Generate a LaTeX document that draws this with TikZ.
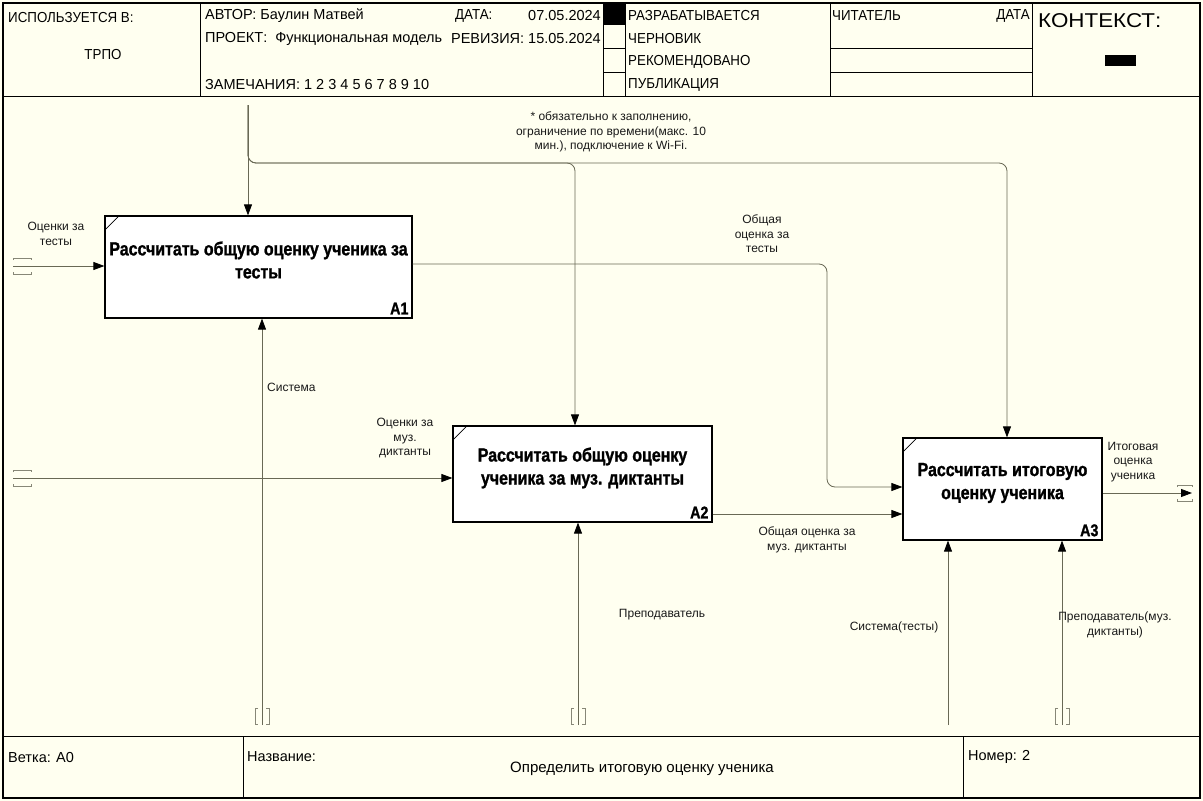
\documentclass[tikz,border=0pt]{standalone}
\usepackage{fontspec}
\setmainfont{Liberation Sans}
\newfontfamily\capsfont[FakeStretch=0.92]{Liberation Sans}
\newfontfamily\widefont[FakeStretch=1.12]{Liberation Sans}
\newfontfamily\ttlfont[FakeStretch=0.84, BoldFeatures={FakeBold=1.2}]{Liberation Sans}
\usetikzlibrary{arrows.meta}
\definecolor{bg}{RGB}{255,255,240}
\definecolor{wirec}{RGB}{105,105,85}
\tikzset{
  wire/.style={draw=wirec, line width=0.8pt, rounded corners=8pt},
  arr/.style={wire, -{Triangle[length=11pt,width=8pt,color=black,fill=black]}},
  tun/.style={draw=wirec!80, line width=0.7pt},
  fnbox/.style={draw=black, fill=white, line width=1.2pt, inner sep=0pt},
  ttl/.style={font=\ttlfont\bfseries\fontsize{19}{23}\selectfont, align=center, inner sep=0pt},
  code/.style={font=\ttlfont\bfseries\fontsize{17}{20}\selectfont, anchor=south east, inner sep=0pt},
  lbl/.style={font=\fontsize{12}{14.5}\selectfont, align=center, text=black!90, inner sep=0pt},
  hdr/.style={font=\fontsize{14.5}{16}\selectfont, anchor=west, inner sep=0pt},
  hcaps/.style={font=\capsfont\fontsize{14.5}{16}\selectfont, anchor=west, inner sep=0pt},
  grid/.style={draw=black, line width=0.8pt},
}
\newcommand{\htun}[3]{%
  \draw[tun] (#1,#3-6) -- (#1,#3-8) -- (#2,#3-8) -- (#2,#3-6);
  \draw[tun] (#1,#3+6) -- (#1,#3+8) -- (#2,#3+8) -- (#2,#3+6);}
\newcommand{\vtun}[3]{%
  \draw[tun] (#1-4,#2) -- (#1-7,#2) -- (#1-7,#3) -- (#1-4,#3);
  \draw[tun] (#1+4,#2) -- (#1+7,#2) -- (#1+7,#3) -- (#1+4,#3);}
\begin{document}
\begin{tikzpicture}[x=1pt,y=-1pt]
\useasboundingbox (0,0) rectangle (1203,801);
\fill[bg] (0,0) rectangle (1203,801);
% frame
\draw[black, line width=1.6pt] (3,3) rectangle (1200,798);
\draw[grid] (3,96) -- (1200,96);
\draw[grid] (200,3) -- (200,96);
\draw[grid] (603,3) -- (603,96);
\draw[grid] (625,3) -- (625,96);
\draw[grid] (830,3) -- (830,96);
\draw[grid] (1032,3) -- (1032,96);
\fill[black] (603,3) rectangle (625,25);
\draw[grid] (603,48) -- (625,48);
\draw[grid] (603,72) -- (625,72);
\draw[grid] (830,48) -- (1032,48);
\draw[grid] (830,72) -- (1032,72);
\fill[black] (1105,55) rectangle (1136,66);
% header text
\node[hcaps] (h1) at (8,18) {ИСПОЛЬЗУЕТСЯ В:};
\node[hcaps, anchor=center] (h2) at (103,55) {ТРПО};
\node[hdr] (h3) at (205,16) {АВТОР: Баулин Матвей};
\node[hcaps] (h4) at (455,16) {ДАТА:};
\node[hdr, anchor=east] (h5) at (601,16) {07.05.2024};
\node[hdr] (h6) at (205,39) {ПРОЕКТ:\ \ Функциональная модель};
\node[hdr, anchor=east] (h7) at (601,39) {РЕВИЗИЯ: 15.05.2024};
\node[hdr] (h8) at (205,85) {ЗАМЕЧАНИЯ: 1 2 3 4 5 6 7 8 9 10};
\node[hcaps] (s1) at (628,16) {РАЗРАБАТЫВАЕТСЯ};
\node[hcaps] (s2) at (628,39) {ЧЕРНОВИК};
\node[hcaps] (s3) at (628,62) {РЕКОМЕНДОВАНО};
\node[hcaps] (s4) at (628,85) {ПУБЛИКАЦИЯ};
\node[hcaps] (r1) at (832,16) {ЧИТАТЕЛЬ};
\node[hcaps, anchor=east] (r2) at (1030,16) {ДАТА};
\node[hdr, font=\widefont\fontsize{20}{22}\selectfont] (ctx) at (1038,21) {КОНТЕКСТ:};
% footer
\draw[grid] (3,736) -- (1200,736);
\draw[grid] (243,736) -- (243,798);
\draw[grid] (963,736) -- (963,798);
\node[hdr] (f1) at (8,757) {Ветка: A0};
\node[hdr] (f2) at (247,757) {Название:};
\node[hdr, anchor=center, font=\fontsize{15}{17}\selectfont] (f3) at (642,769) {Определить итоговую оценку ученика};
\node[hdr] (f4) at (968,757) {Номер: 2};
% function boxes
\node[fnbox, minimum width=307pt, minimum height=102pt] (A1) at (258.5,267) {};
\node[fnbox, minimum width=259pt, minimum height=96pt] (A2) at (582.5,474) {};
\node[fnbox, minimum width=199pt, minimum height=102pt] (A3) at (1002.5,489) {};
\draw[black, line width=0.7pt] ([yshift=-15pt]A1.north west) -- ([xshift=15pt]A1.north west);
\draw[black, line width=0.7pt] ([yshift=-15pt]A2.north west) -- ([xshift=15pt]A2.north west);
\draw[black, line width=0.7pt] ([yshift=-15pt]A3.north west) -- ([xshift=15pt]A3.north west);
\node[ttl] (t1) at (258.5,260) {Рассчитать общую оценку ученика за\\тесты};
\node[ttl] (t2) at (582.5,468) {Рассчитать общую оценку\\ученика за муз. диктанты};
\node[ttl] (t3) at (1002.5,483) {Рассчитать итоговую\\оценку ученика};
\node[code] (n1) at ([xshift=-4pt,yshift=4pt]A1.south east) {A1};
\node[code] (n2) at ([xshift=-4pt,yshift=4pt]A2.south east) {A2};
\node[code] (n3) at ([xshift=-4pt,yshift=4pt]A3.south east) {A3};
% controls
\coordinate (c0) at (248,105);
\coordinate (j2) at (575,163);
\coordinate (j3) at (1007,163);
\draw[arr] (c0) -- (A1.north -| c0);
\draw[arr] (c0) |- (j2) -- (A2.north -| j2);
\draw[arr] (c0) |- (j3) -- (A3.north -| j3);
\node[lbl] (lc) at (611,132) {* обязательно к заполнению,\\ограничение по времени(макс. 10\\мин.), подключение к Wi-Fi.};
% inputs
\coordinate (i1) at (13,266);
\coordinate (i2) at (13,478);
\draw[arr] (i1) -- (A1.west |- i1);
\draw[arr] (i2) -- (A2.west |- i2);
\htun{13}{31}{266}
\htun{13}{31}{478}
\node[lbl] (li1) at (56,234) {Оценки за\\тесты};
\node[lbl] (li2) at (405,438) {Оценки за\\муз.\\диктанты};
% A1 -> A3
\coordinate (k1) at (827,264);
\coordinate (k2) at (827,487);
\draw[arr] (A1.east |- k1) -- (k1) -- (k2) -- (A3.west |- k2);
\node[lbl] (lk1) at (762,234) {Общая\\оценка за\\тесты};
% A2 -> A3
\coordinate (k3) at (800,514);
\draw[arr] (A2.east |- k3) -- (A3.west |- k3);
\node[lbl] (lk3) at (807,540) {Общая оценка за\\муз. диктанты};
% output
\coordinate (o1) at (1192,493);
\draw[arr] (A3.east |- o1) -- (o1);
\draw[tun] (1177,487) -- (1177,485) -- (1192,485) -- (1192,487);
\draw[tun] (1177,499) -- (1177,501) -- (1192,501) -- (1192,499);
\node[lbl] (lo1) at (1133,462) {Итоговая\\оценка\\ученика};
% mechanisms
\coordinate (m1) at (262,725);
\coordinate (m2) at (578,725);
\coordinate (m3) at (948,725);
\coordinate (m4) at (1062,725);
\draw[arr] (m1) -- (A1.south -| m1);
\draw[arr] (m2) -- (A2.south -| m2);
\draw[arr] (m3) -- (A3.south -| m3);
\draw[arr] (m4) -- (A3.south -| m4);
\vtun{262}{708}{724}
\vtun{578}{708}{724}
\vtun{1062}{708}{724}
\node[lbl, anchor=west] (lm1) at (267,387) {Система};
\node[lbl] (lm2) at (662,615) {Преподаватель};
\node[lbl] (lm3) at (894,627) {Система(тесты)};
\node[lbl] (lm4) at (1115,625) {Преподаватель(муз.\\диктанты)};
\end{tikzpicture}
\end{document}
